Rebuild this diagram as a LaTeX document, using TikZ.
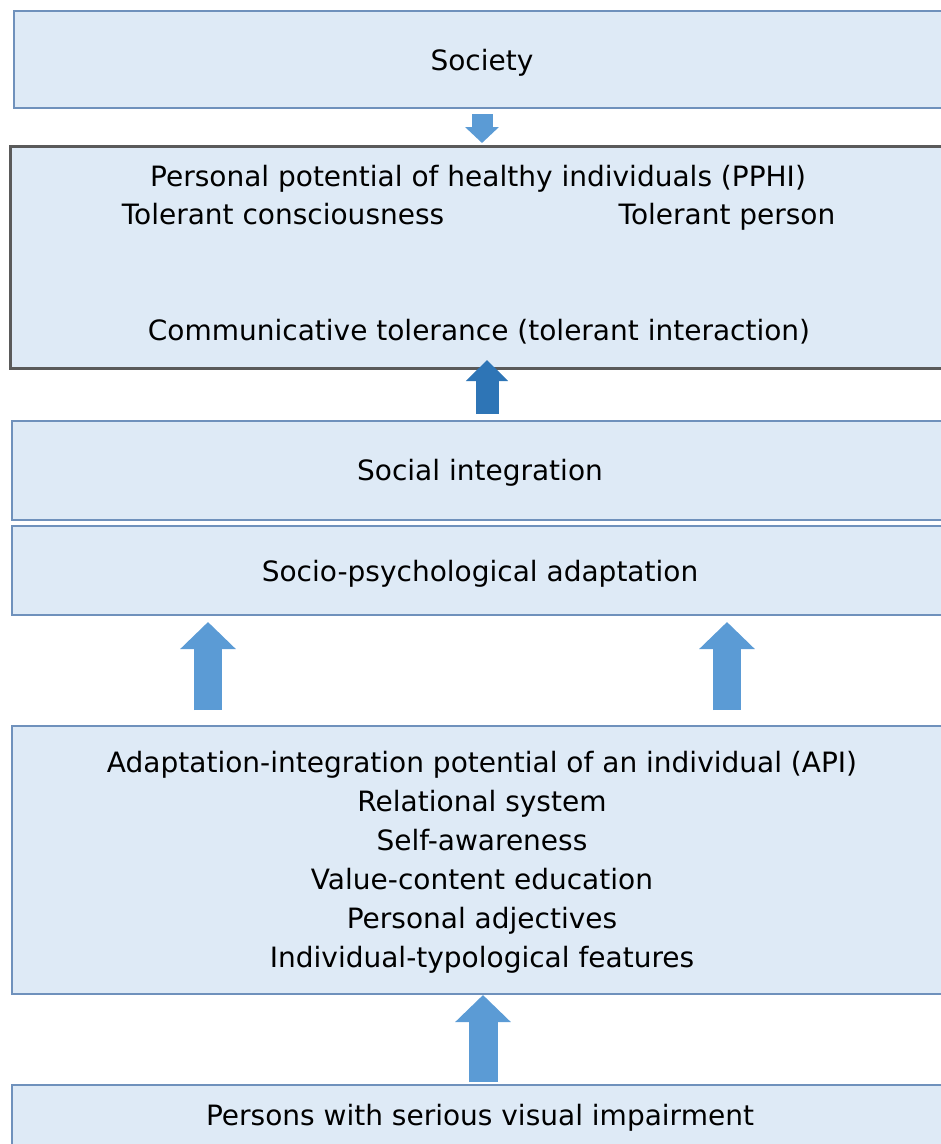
\documentclass[tikz,border=0pt]{standalone}
\usepackage{fontspec}
\setmainfont{DejaVu Sans}
\usetikzlibrary{arrows.meta,calc}
\definecolor{boxfill}{HTML}{DEEAF6}
\definecolor{boxline}{HTML}{6F91BC}
\definecolor{arrowfill}{HTML}{5B9BD5}
\definecolor{arrowdark}{HTML}{2E75B6}
\definecolor{darkline}{HTML}{5A5A5A}
\begin{document}
\begin{tikzpicture}[x=1pt,y=-1pt,
  box/.style={draw=boxline, line width=2pt, fill=boxfill, rectangle, inner sep=0pt, anchor=north west},
  txt/.style={font=\fontsize{28}{39}\selectfont, inner sep=0pt, align=center, text=black},
  one/.style={text height=20pt, text depth=6pt},
  barrow/.style={draw=arrowfill, line width=28pt, -{Triangle[width=54pt,length=27pt]}}]
\useasboundingbox (0,0) rectangle (941,1144);
\clip (0,0) rectangle (941,1144);
% boxes
\node[box, minimum width=940pt, minimum height=97pt] (society) at (13,10) {};
\node[box, draw=darkline, line width=3pt, minimum width=945pt, minimum height=222pt] (pphi) at (9,145) {};
\node[box, minimum width=945pt, minimum height=99pt] (socint) at (11,420) {};
\node[box, minimum width=945pt, minimum height=89pt] (socio) at (11,525) {};
\node[box, minimum width=945pt, minimum height=268pt] (api) at (11,725) {};
\node[box, minimum width=945pt, minimum height=100pt] (persons) at (11,1084) {};
% texts
\node[txt, one] (tsoc) at (482,63) {Society};
\node[txt, one] (tpphi) at (478,179) {Personal potential of healthy individuals (PPHI)};
\node[txt, one] (ttc) at (283,217) {Tolerant consciousness};
\node[txt, one] (ttp) at (727,217) {Tolerant person};
\node[txt, one] (tcom) at (479,333) {Communicative tolerance (tolerant interaction)};
\node[txt, one] (tsi) at (480,473) {Social integration};
\node[txt, one] (tspa) at (480,574) {Socio-psychological adaptation};
\node[txt] (tapi) at (482,862) {Adaptation-integration potential of an individual (API)\\Relational system\\Self-awareness\\Value-content education\\Personal adjectives\\Individual-typological features};
\node[txt, one] (tper) at (480,1118) {Persons with serious visual impairment};
% arrow columns
\coordinate (xa) at (482,0);
\coordinate (xb) at (487,0);
\coordinate (xc) at (208,0);
\coordinate (xd) at (727,0);
\coordinate (xe) at (483,0);
% arrows
\draw[barrow, line width=21pt, -{Triangle[width=33pt,length=16pt]}, shorten <=5pt, shorten >=2pt] (society.south -| xa) -- (pphi.north -| xa);
\draw[barrow, draw=arrowdark, line width=23pt, -{Triangle[width=41pt,length=21pt]}, shorten <=6pt, shorten >=-10pt] (socint.north -| xb) -- (pphi.south -| xb);
\draw[barrow, shorten <=15pt, shorten >=6pt] (api.north -| xc) -- (socio.south -| xc);
\draw[barrow, shorten <=15pt, shorten >=6pt] (api.north -| xd) -- (socio.south -| xd);
\draw[barrow, line width=29pt, shorten <=2pt, shorten >=0pt] (persons.north -| xe) -- (api.south -| xe);
\end{tikzpicture}
\end{document}
